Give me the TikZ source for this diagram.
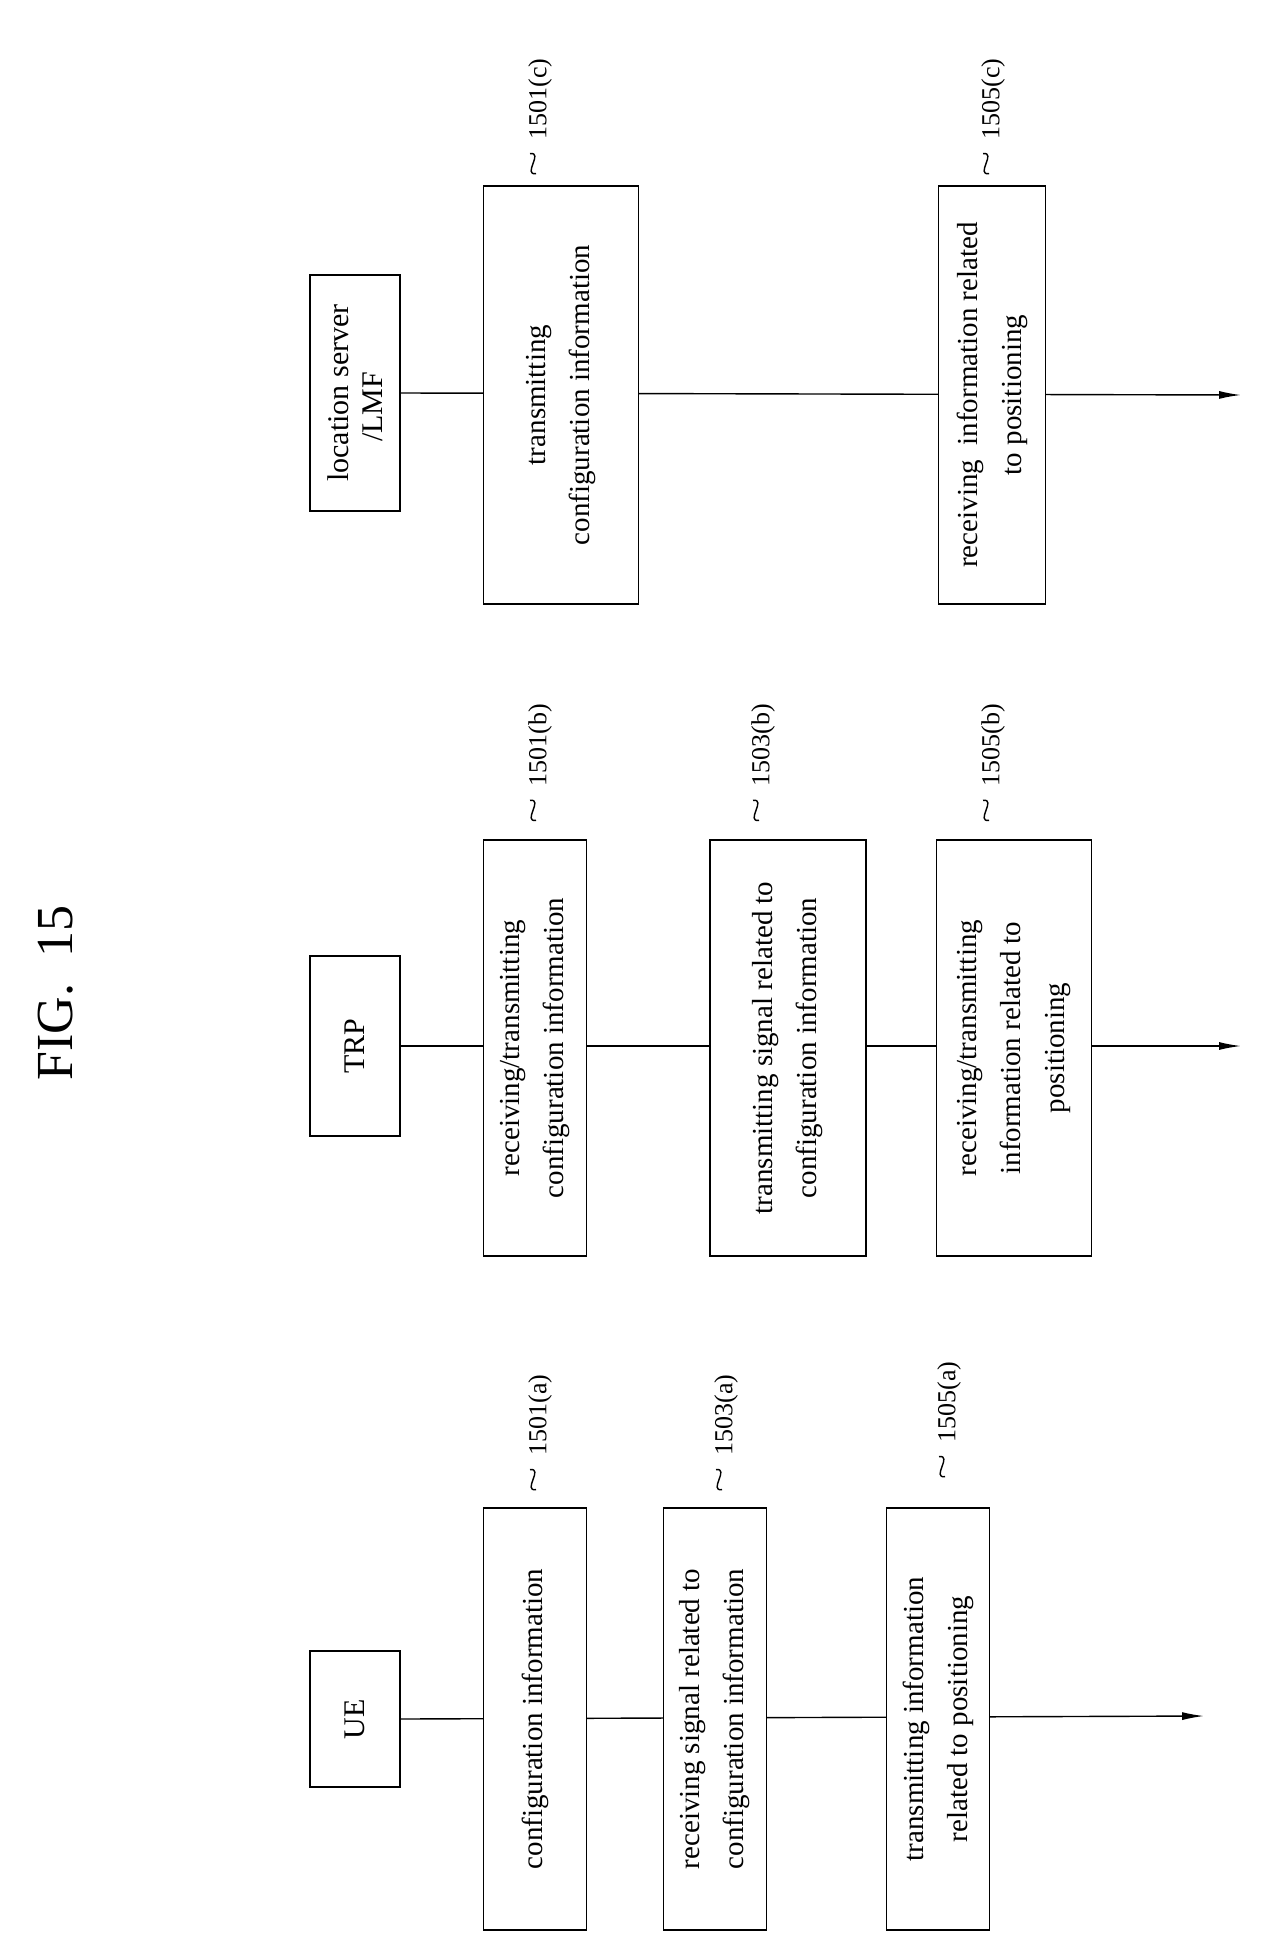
\documentclass[tikz,border=0pt]{standalone}
\usepackage{fontspec}
\setmainfont{Liberation Serif}
\usetikzlibrary{arrows.meta,backgrounds}
\begin{document}
\begin{tikzpicture}[x=1pt,y=-1pt,
 box/.style={draw,line width=1.6pt,fill=white,rotate=90,align=center,inner sep=2pt,font=\fontsize{29}{44}\selectfont},
 hdr/.style={draw,line width=1.6pt,fill=white,rotate=90,align=center,minimum width=180,minimum height=90,inner sep=0pt,font=\fontsize{30}{34}\selectfont},
 lbl/.style={rotate=90,font=\fontsize{26}{28}\selectfont,inner sep=0pt},
 life/.style={line width=1.4pt,-{Latex[length=22pt,width=8pt]}},
 tl/.style={line width=1.4pt}]
\useasboundingbox (0,0) rectangle (1271,1945);
\node[rotate=90,font=\fontsize{52}{56}\selectfont] (title) at (56,993) {FIG.~~15};
% UE column
\node[hdr,minimum width=136] (ue) at (355,1719) {UE};
\node[box,minimum width=422,minimum height=103] (a1) at (535,1719) {configuration information};
\node[box,minimum width=422,minimum height=103] (a3) at (715,1719) {receiving signal related to\\configuration information};
\node[box,minimum width=422,minimum height=103] (a5) at (938,1719) {transmitting information\\related to positioning};
\coordinate (ueend) at (1204,1716);
% TRP column
\node[hdr] (trp) at (355,1046) {TRP};
\node[box,minimum width=416,minimum height=103] (b1) at (535,1048) {receiving/transmitting\\configuration information};
\node[box,minimum width=416,minimum height=156] (b3) at (788,1048) {transmitting signal related to\\configuration information};
\node[box,minimum width=416,minimum height=155] (b5) at (1014,1048) {receiving/transmitting\\information related to\\positioning};
\coordinate (trpend) at (1241,1046);
% LMF column
\node[hdr,minimum width=236,align=left] (lmf) at (355,393) {location server\\\hspace*{40pt}/LMF};
\node[box,minimum width=418,minimum height=155] (c1) at (561,395) {transmitting\\configuration information};
\node[box,minimum width=418,minimum height=107] (c5) at (992,395) {receiving~~information related\\to positioning};
\coordinate (lmfend) at (1241,395);
\begin{scope}[on background layer]
\draw[life] (ue.south) -- (ueend);
\draw[life] (trp.south) -- (trpend);
\draw[life] (lmf.south) -- (lmfend);
\end{scope}
% labels
\foreach \n/\x/\y/\t in {la1/540/1415/1501(a),la3/726/1415/1503(a),la5/949/1402/1505(a),lb1/540/745/1501(b),lb3/763/745/1503(b),lb5/993/745/1505(b),lc1/540/99/1501(c),lc5/993/99/1505(c)}{
 \node[lbl] (\n) at (\x,\y) {\t};
 \draw[tl] ([xshift=-10pt,yshift=-14pt]\n.west) .. controls +(14,-2) and +(-14,2) .. ([xshift=-4pt,yshift=-34pt]\n.west);
}
\end{tikzpicture}
\end{document}
